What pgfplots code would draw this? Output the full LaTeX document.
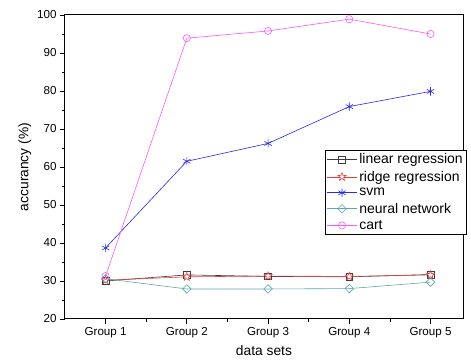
\documentclass[border=0pt]{standalone}
\usepackage{pgfplots}
\pgfplotsset{compat=1.18}
\usepackage{fontspec}
\setmainfont{Liberation Sans}
\definecolor{cLin}{RGB}{60,60,60}
\definecolor{cRid}{RGB}{235,60,60}
\definecolor{cSvm}{RGB}{40,40,240}
\definecolor{cNeu}{RGB}{90,170,170}
\definecolor{cCart}{RGB}{250,90,250}
\pgfdeclareplotmark{ostar}{%
  \pgfpathmoveto{\pgfpointpolar{90}{\pgfplotmarksize}}%
  \pgfpathlineto{\pgfpointpolar{126}{0.42\pgfplotmarksize}}%
  \pgfpathlineto{\pgfpointpolar{162}{\pgfplotmarksize}}%
  \pgfpathlineto{\pgfpointpolar{198}{0.42\pgfplotmarksize}}%
  \pgfpathlineto{\pgfpointpolar{234}{\pgfplotmarksize}}%
  \pgfpathlineto{\pgfpointpolar{270}{0.42\pgfplotmarksize}}%
  \pgfpathlineto{\pgfpointpolar{306}{\pgfplotmarksize}}%
  \pgfpathlineto{\pgfpointpolar{342}{0.42\pgfplotmarksize}}%
  \pgfpathlineto{\pgfpointpolar{18}{\pgfplotmarksize}}%
  \pgfpathlineto{\pgfpointpolar{54}{0.42\pgfplotmarksize}}%
  \pgfpathclose
  \pgfusepathqfillstroke}
\begin{document}
\begin{tikzpicture}
\begin{axis}[
  scale only axis, width=398pt, height=304pt,
  xmin=0.5, xmax=5.4, ymin=20, ymax=100,
  xtick={1,2,3,4,5},
  xticklabels={Group 1,Group 2,Group 3,Group 4,Group 5},
  minor xtick={1.5,2.5,3.5,4.5},
  ytick={20,30,...,100},
  minor ytick={25,35,...,95},
  tick align=outside,
  tick pos=left,
  major tick length=5pt, minor tick length=3pt,
  axis line style={black, line width=1pt},
  every tick/.style={black, line width=0.8pt},
  xlabel={data sets}, ylabel={accurancy (\%)},
  xlabel style={yshift=-1pt},
  ylabel style={yshift=-1pt},
  /pgf/number format/assume math mode=true,
  tick label style={font=\fontsize{11.6pt}{13pt}\selectfont},
  label style={font=\fontsize{13.8pt}{15pt}\selectfont},
  legend style={at={(rel axis cs:0.653,0.556)}, anchor=north west, draw=black, line width=0.6pt, font=\fontsize{14pt}{16pt}\selectfont, row sep=1.6pt, inner sep=1.5pt},
  legend image code/.code={\draw[mark repeat=2,mark phase=2] plot coordinates {(0pt,0pt) (15pt,0pt) (30pt,0pt)};},
  legend cell align=left,
  every axis plot/.append style={line width=0.6pt},
]
\addplot[cLin, mark=square, mark size=3.3pt, mark options={solid, fill=white}] coordinates {(1,30.0) (2,31.6) (3,31.2) (4,31.1) (5,31.7)};
\addlegendentry{linear regression}
\addplot[cRid, mark=ostar, mark size=4.2pt, mark options={fill=white}] coordinates {(1,30.2) (2,31.1) (3,31.3) (4,31.2) (5,31.6)};
\addlegendentry{ridge regression}
\addplot[cSvm, mark=asterisk, mark size=4.2pt] coordinates {(1,38.7) (2,61.5) (3,66.2) (4,75.9) (5,79.9)};
\addlegendentry{svm}
\addplot[cNeu, mark=square, mark size=3pt, mark options={fill=white, rotate=45}] coordinates {(1,30.6) (2,27.9) (3,27.9) (4,28.0) (5,29.7)};
\addlegendentry{neural network}
\addplot[cCart, mark=o, mark size=3.6pt, mark options={fill=white}] coordinates {(1,31.3) (2,93.9) (3,95.8) (4,98.9) (5,95.0)};
\addlegendentry{cart}
\end{axis}
\path (current axis.south west) ++(-65pt,-45pt);
\path (current axis.north east) ++(8pt,15pt);
\end{tikzpicture}
\end{document}
